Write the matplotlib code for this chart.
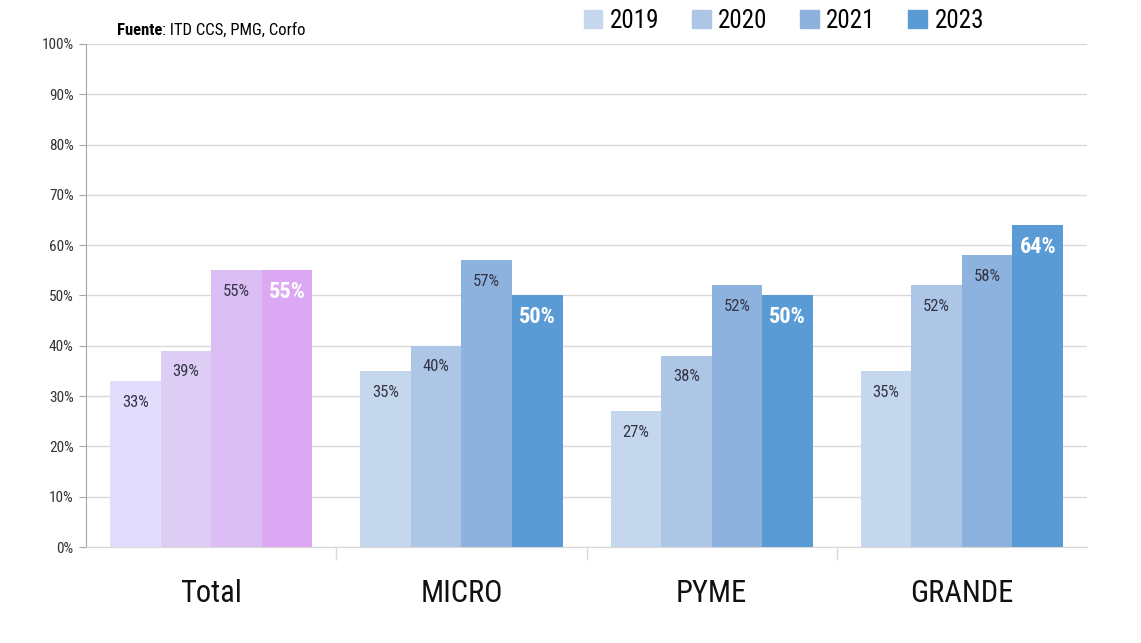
import numpy as np
import matplotlib.pyplot as plt
import matplotlib.font_manager as fm
from matplotlib.patches import Patch

# pick a narrow font if one is around
available = {f.name for f in fm.fontManager.ttflist}
preferred = ['Liberation Sans Narrow', 'DejaVu Sans Condensed', 'Roboto Condensed',
             'Open Sans Condensed', 'Noto Sans Condensed', 'Roboto']
font_name = next((p for p in preferred if p in available), 'DejaVu Sans')
plt.rcParams['font.family'] = [font_name, 'DejaVu Sans']

# --- Data ---
categories = ['Total', 'MICRO', 'PYME', 'GRANDE']
years = ['2019', '2020', '2021', '2023']
values = {
    '2019': [33, 35, 27, 35],
    '2020': [39, 40, 38, 52],
    '2021': [55, 57, 52, 58],
    '2023': [55, 50, 50, 64],
}
blue_colors = ['#c5d7ec', '#adc6e6', '#8db2dd', '#5b9bd5']
total_colors = ['#e2dcfd', '#ddcdf4', '#dabdf3', '#dca8f4']

fig = plt.figure(figsize=(11.41, 6.43), dpi=100)
ax = fig.add_axes([0.0754, 0.1493, 0.8773, 0.7823])

x = np.arange(len(categories))
bar_w = 0.202
offsets = (np.arange(len(years)) - 1.5) * bar_w

for i, yr in enumerate(years):
    vals = values[yr]
    colors = [total_colors[i]] + [blue_colors[i]] * (len(categories) - 1)
    bars = ax.bar(x + offsets[i], vals, width=bar_w, color=colors, zorder=3)
    for b, v in zip(bars, vals):
        if i == 3:
            ax.text(b.get_x() + b.get_width() / 2, v - 4.3, f'{v}%', ha='center', va='center',
                    color='white', fontsize=16, fontweight='bold', zorder=4)
        else:
            ax.text(b.get_x() + b.get_width() / 2, v - 4.2, f'{v}%', ha='center', va='center',
                    color='#333344', fontsize=12, zorder=4)

ax.set_xlim(-0.5, len(categories) - 0.5)
ax.set_ylim(0, 100)
ax.set_yticks(np.arange(0, 101, 10))
ax.set_yticklabels([f'{t}%' for t in range(0, 101, 10)], fontsize=11, color='#333333')
ax.grid(axis='y', color='#d9d9d9', linewidth=1, zorder=0)

ax.set_xticks(x)
ax.set_xticklabels(categories, fontsize=22, color='#111111')
ax.tick_params(axis='x', length=0, pad=23)
ax.set_xticks(np.arange(0.5, len(categories) - 0.5, 1), minor=True)
ax.tick_params(axis='x', which='minor', length=9, color='#d9d9d9', width=1)
ax.tick_params(axis='y', length=5, color='#a6a6a6', pad=4)

for s in ['top', 'right']:
    ax.spines[s].set_visible(False)
ax.spines['left'].set_color('#a6a6a6')
ax.spines['bottom'].set_color('#d9d9d9')

# Source note: bold word followed by plain text
t1 = fig.text(0.1025, 0.953, 'Fuente', fontsize=12, fontweight='bold', ha='left', va='center')
fig.canvas.draw()
bb = t1.get_window_extent(renderer=fig.canvas.get_renderer())
x_after = bb.x1 / fig.bbox.width
fig.text(x_after, 0.953, ': ITD CCS, PMG, Corfo', fontsize=12, ha='left', va='center')

# Legend
handles = [Patch(color=c, label=y) for c, y in zip(blue_colors, years)]
fig.legend(handles=handles, loc='center', bbox_to_anchor=(0.687, 0.968), ncol=4,
           frameon=False, fontsize=18, handlelength=0.75, handleheight=0.75,
           columnspacing=1.3, handletextpad=0.3)

fig.savefig('out.png', dpi=100)
